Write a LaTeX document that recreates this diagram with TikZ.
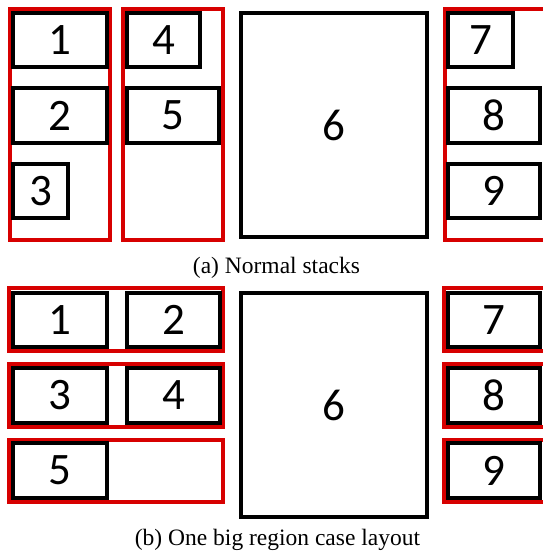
\documentclass[tikz,border=0pt]{standalone}
\usepackage{fontspec}
\setmainfont{Liberation Serif}
\newfontfamily\digitfont{Carlito}
\definecolor{regred}{RGB}{215,0,0}
\begin{document}
\begin{tikzpicture}[x=1pt,y=-1pt,
  redbox/.style={draw=regred,line width=3.3pt,rectangle,inner sep=0pt},
  blk/.style={draw=black,fill=white,line width=3.3pt,rectangle,inner sep=0pt,
    font=\digitfont\fontsize{45}{45}\selectfont},
  captext/.style={font=\fontsize{23.5}{26}\selectfont,inner sep=0pt}]
\useasboundingbox[fill=white] (0,0) rectangle (542,560);
% (a) normal stacks
\node[redbox,minimum width=100pt,minimum height=231pt] (ra1) at (60,124.5) {};
\node[redbox,minimum width=100pt,minimum height=231pt] (ra2) at (173,124.5) {};
\node[redbox,minimum width=100pt,minimum height=231pt] (ra3) at (495,124.5) {};
\node[blk,minimum width=94pt,minimum height=54pt] (a1) at (60,40) {1};
\node[blk,minimum width=94pt,minimum height=55pt] (a2) at (60,115.5) {2};
\node[blk,minimum width=55pt,minimum height=54pt] (a3) at (40.5,191) {3};
\node[blk,minimum width=73pt,minimum height=54pt] (a4) at (163.5,40) {4};
\node[blk,minimum width=92pt,minimum height=55pt] (a5) at (173,115.5) {5};
\node[blk,minimum width=186pt,minimum height=224pt] (a6) at (334,125) {6};
\node[blk,minimum width=65pt,minimum height=54pt] (a7) at (480.5,40) {7};
\node[blk,minimum width=92pt,minimum height=55pt] (a8) at (494,115.5) {8};
\node[blk,minimum width=92pt,minimum height=54pt] (a9) at (494,191) {9};
\node[captext] (capa) at (276.5,268) {(a) Normal stacks};
% (b) one big region
\node[redbox,minimum width=214pt,minimum height=63pt] (rb1) at (116,319.5) {};
\node[redbox,minimum width=214pt,minimum height=63pt] (rb2) at (116,395.5) {};
\node[redbox,minimum width=214pt,minimum height=62pt] (rb3) at (116,471) {};
\node[redbox,minimum width=102pt,minimum height=63pt] (rb4) at (495,319.5) {};
\node[redbox,minimum width=102pt,minimum height=63pt] (rb5) at (495,395.5) {};
\node[redbox,minimum width=102pt,minimum height=62pt] (rb6) at (495,471) {};
\node[blk,minimum width=94pt,minimum height=54pt] (b1) at (60,320) {1};
\node[blk,minimum width=93pt,minimum height=54pt] (b2) at (173.5,320) {2};
\node[blk,minimum width=94pt,minimum height=55pt] (b3) at (60,395.5) {3};
\node[blk,minimum width=93pt,minimum height=55pt] (b4) at (173.5,395.5) {4};
\node[blk,minimum width=94pt,minimum height=55pt] (b5) at (60,470.5) {5};
\node[blk,minimum width=186pt,minimum height=224pt] (b6) at (334,405) {6};
\node[blk,minimum width=92pt,minimum height=54pt] (b7) at (494,320) {7};
\node[blk,minimum width=92pt,minimum height=55pt] (b8) at (494,395.5) {8};
\node[blk,minimum width=92pt,minimum height=55pt] (b9) at (494,470.5) {9};
\node[captext] (capb) at (277.5,540) {(b) One big region case layout};
\end{tikzpicture}
\end{document}
